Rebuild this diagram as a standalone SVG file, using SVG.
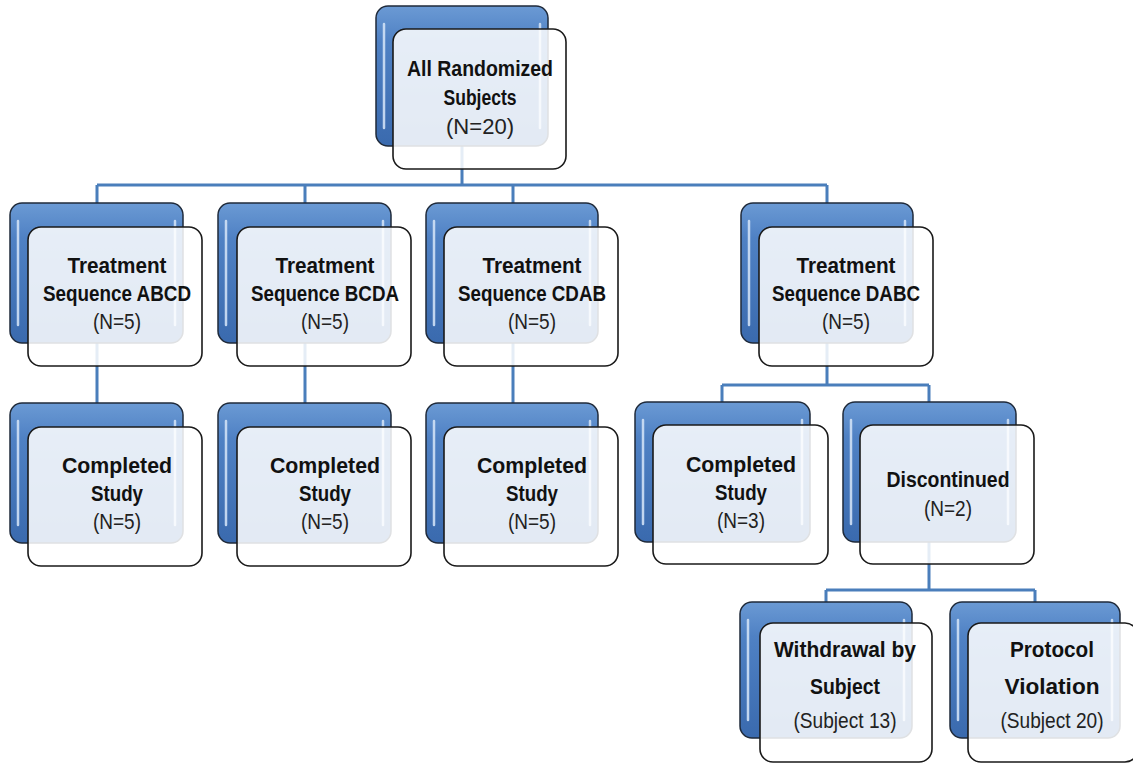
<svg xmlns="http://www.w3.org/2000/svg" width="1133" height="764" viewBox="0 0 1133 764">
<defs>
<linearGradient id="blue" x1="0" y1="0" x2="0" y2="1">
<stop offset="0" stop-color="#6b9ad4"/>
<stop offset="0.25" stop-color="#4f81c4"/>
<stop offset="1" stop-color="#3a6aae"/>
</linearGradient>
<style>
.back{fill:url(#blue);stroke:#1f2a3a;stroke-width:1.5}
.hl{fill:none;stroke:#cfe0f5;stroke-width:2.5;stroke-linecap:round;opacity:0.9}
.front{fill:#ffffff;fill-opacity:0.86;stroke:#1a1a1a;stroke-width:1.6}
.conn{fill:none;stroke:#4a7ebb;stroke-width:3}
.t{font-family:"Liberation Sans",Arial,sans-serif;font-size:22px;font-weight:bold;fill:#111;text-anchor:middle}
.n{font-family:"Liberation Sans",Arial,sans-serif;font-size:22px;fill:#222;text-anchor:middle}
</style>
</defs>
<rect width="1133" height="764" fill="#ffffff"/>
<g id="connectors">
<path class="conn" d="M462 146 V185 M97 185 H827 M97 185 V203 M305 185 V203 M513 185 V203 M827 185 V203"/>
<path class="conn" d="M97 343 V403 M305 343 V403 M513 343 V403"/>
<path class="conn" d="M827 343 V385 M722 385 H929 M722 385 V402 M929 385 V402"/>
<path class="conn" d="M929 542 V590 M826 590 H1035 M826 590 V602 M1035 590 V602"/>
</g>
<g id="root">
<rect class="back" x="376" y="6" width="172" height="140" rx="12"/>
<path class="hl" d="M384 24 V128 M540 24 V128"/>
<rect class="front" x="393" y="29" width="173" height="140" rx="13"/>
<text class="t" x="480" y="76" textLength="146" lengthAdjust="spacingAndGlyphs">All Randomized</text>
<text class="t" x="480" y="105" textLength="73" lengthAdjust="spacingAndGlyphs">Subjects</text>
<text class="n" x="480" y="134" textLength="68" lengthAdjust="spacingAndGlyphs">(N=20)</text>
</g>
<g id="seqABCD">
<rect class="back" x="10" y="203" width="173" height="140" rx="12"/>
<path class="hl" d="M18 221 V325 M175 221 V325"/>
<rect class="front" x="28" y="227" width="174" height="139" rx="13"/>
<text class="t" x="117" y="273" textLength="99" lengthAdjust="spacingAndGlyphs">Treatment</text>
<text class="t" x="117" y="301" textLength="148" lengthAdjust="spacingAndGlyphs">Sequence ABCD</text>
<text class="n" x="117" y="329" textLength="48" lengthAdjust="spacingAndGlyphs">(N=5)</text>
</g>
<g id="seqBCDA">
<rect class="back" x="218" y="203" width="173" height="140" rx="12"/>
<path class="hl" d="M226 221 V325 M383 221 V325"/>
<rect class="front" x="237" y="227" width="174" height="139" rx="13"/>
<text class="t" x="325" y="273" textLength="99" lengthAdjust="spacingAndGlyphs">Treatment</text>
<text class="t" x="325" y="301" textLength="148" lengthAdjust="spacingAndGlyphs">Sequence BCDA</text>
<text class="n" x="325" y="329" textLength="48" lengthAdjust="spacingAndGlyphs">(N=5)</text>
</g>
<g id="seqCDAB">
<rect class="back" x="426" y="203" width="172" height="140" rx="12"/>
<path class="hl" d="M434 221 V325 M590 221 V325"/>
<rect class="front" x="444" y="227" width="174" height="139" rx="13"/>
<text class="t" x="532" y="273" textLength="99" lengthAdjust="spacingAndGlyphs">Treatment</text>
<text class="t" x="532" y="301" textLength="148" lengthAdjust="spacingAndGlyphs">Sequence CDAB</text>
<text class="n" x="532" y="329" textLength="48" lengthAdjust="spacingAndGlyphs">(N=5)</text>
</g>
<g id="seqDABC">
<rect class="back" x="741" y="203" width="172" height="140" rx="12"/>
<path class="hl" d="M749 221 V325 M905 221 V325"/>
<rect class="front" x="759" y="227" width="174" height="139" rx="13"/>
<text class="t" x="846" y="273" textLength="99" lengthAdjust="spacingAndGlyphs">Treatment</text>
<text class="t" x="846" y="301" textLength="148" lengthAdjust="spacingAndGlyphs">Sequence DABC</text>
<text class="n" x="846" y="329" textLength="48" lengthAdjust="spacingAndGlyphs">(N=5)</text>
</g>
<g id="compABCD">
<rect class="back" x="10" y="403" width="173" height="140" rx="12"/>
<path class="hl" d="M18 421 V525 M175 421 V525"/>
<rect class="front" x="28" y="427" width="174" height="139" rx="13"/>
<text class="t" x="117" y="473" textLength="110" lengthAdjust="spacingAndGlyphs">Completed</text>
<text class="t" x="117" y="501" textLength="52" lengthAdjust="spacingAndGlyphs">Study</text>
<text class="n" x="117" y="529" textLength="48" lengthAdjust="spacingAndGlyphs">(N=5)</text>
</g>
<g id="compBCDA">
<rect class="back" x="218" y="403" width="173" height="140" rx="12"/>
<path class="hl" d="M226 421 V525 M383 421 V525"/>
<rect class="front" x="237" y="427" width="174" height="139" rx="13"/>
<text class="t" x="325" y="473" textLength="110" lengthAdjust="spacingAndGlyphs">Completed</text>
<text class="t" x="325" y="501" textLength="52" lengthAdjust="spacingAndGlyphs">Study</text>
<text class="n" x="325" y="529" textLength="48" lengthAdjust="spacingAndGlyphs">(N=5)</text>
</g>
<g id="compCDAB">
<rect class="back" x="426" y="403" width="172" height="140" rx="12"/>
<path class="hl" d="M434 421 V525 M590 421 V525"/>
<rect class="front" x="444" y="427" width="174" height="139" rx="13"/>
<text class="t" x="532" y="473" textLength="110" lengthAdjust="spacingAndGlyphs">Completed</text>
<text class="t" x="532" y="501" textLength="52" lengthAdjust="spacingAndGlyphs">Study</text>
<text class="n" x="532" y="529" textLength="48" lengthAdjust="spacingAndGlyphs">(N=5)</text>
</g>
<g id="compDABC">
<rect class="back" x="635" y="402" width="175" height="140" rx="12"/>
<path class="hl" d="M643 420 V524 M802 420 V524"/>
<rect class="front" x="653" y="425" width="175" height="139" rx="13"/>
<text class="t" x="741" y="472" textLength="110" lengthAdjust="spacingAndGlyphs">Completed</text>
<text class="t" x="741" y="500" textLength="52" lengthAdjust="spacingAndGlyphs">Study</text>
<text class="n" x="741" y="528" textLength="48" lengthAdjust="spacingAndGlyphs">(N=3)</text>
</g>
<g id="discontinued">
<rect class="back" x="843" y="402" width="173" height="140" rx="12"/>
<path class="hl" d="M851 420 V524 M1008 420 V524"/>
<rect class="front" x="860" y="425" width="174" height="139" rx="13"/>
<text class="t" x="948" y="487" textLength="123" lengthAdjust="spacingAndGlyphs">Discontinued</text>
<text class="n" x="948" y="516" textLength="48" lengthAdjust="spacingAndGlyphs">(N=2)</text>
</g>
<g id="withdrawal">
<rect class="back" x="740" y="602" width="172" height="136" rx="12"/>
<path class="hl" d="M748 620 V720 M904 620 V720"/>
<rect class="front" x="760" y="623" width="172" height="139" rx="13"/>
<text class="t" x="845" y="657" textLength="142" lengthAdjust="spacingAndGlyphs">Withdrawal by</text>
<text class="t" x="845" y="694" textLength="70" lengthAdjust="spacingAndGlyphs">Subject</text>
<text class="n" x="845" y="728" textLength="103" lengthAdjust="spacingAndGlyphs">(Subject 13)</text>
</g>
<g id="protocol">
<rect class="back" x="950" y="602" width="170" height="136" rx="12"/>
<path class="hl" d="M958 620 V720 M1112 620 V720"/>
<rect class="front" x="968" y="623" width="170" height="139" rx="13"/>
<text class="t" x="1052" y="657" textLength="84" lengthAdjust="spacingAndGlyphs">Protocol</text>
<text class="t" x="1052" y="694" textLength="95" lengthAdjust="spacingAndGlyphs">Violation</text>
<text class="n" x="1052" y="728" textLength="103" lengthAdjust="spacingAndGlyphs">(Subject 20)</text>
</g>
</svg>
